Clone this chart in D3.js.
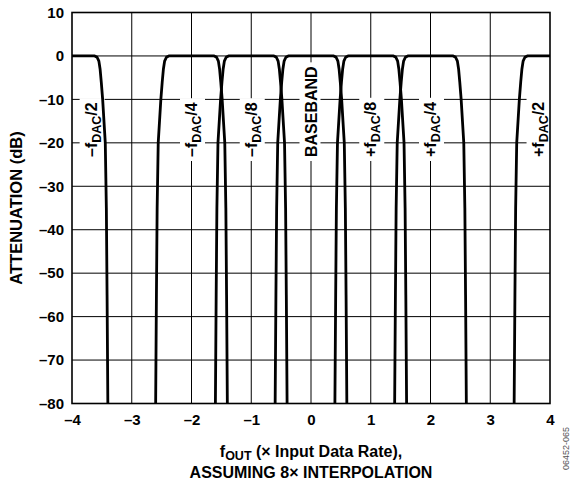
<!DOCTYPE html>
<html><head><meta charset="utf-8">
<script src="https://cdn.jsdelivr.net/npm/d3@7"></script>
<style>
html,body{margin:0;padding:0;background:#fff;}
svg{display:block;}
text{font-family:"Liberation Sans",Arial,Helvetica,sans-serif;font-weight:bold;fill:#000;}
</style></head>
<body>
<script>
// ---- data ----
const xTicks = [-4, -3, -2, -1, 0, 1, 2, 3, 4];
const yTicks = [10, 0, -10, -20, -30, -40, -50, -60, -70, -80];
const bandCenters = [-4, -2, -1, 0, 1, 2, 4];
// one filter edge: offset from band centre (x Input Data Rate) vs attenuation (dB)
const edgeOffset = [0.38, 0.42, 0.45, 0.47, 0.49, 0.513, 0.557, 0.575, 0.587, 0.60];
const edgeDb     = [0,    -0.3, -1.2, -3,   -6,   -10,   -20,   -35,   -55,   -80];
const labelPrefix = ["–f", "–f", "–f", "BASEBAND", "+f", "+f", "+f"];
const labelSub    = ["DAC", "DAC", "DAC", "", "DAC", "DAC", "DAC"];
const labelSuffix = ["/2", "/4", "/8", "", "/8", "/4", "/2"];
const labelAt     = [-3.68, -2, -1, 0, 1, 2, 3.8];

const W = 576, H = 483;
const m = {l:72, r:550, t:12.5, b:403.5};
const svg = d3.select("body").append("svg").attr("width", W).attr("height", H);
const x = d3.scaleLinear().domain([-4, 4]).range([m.l, m.r]);
const y = d3.scaleLinear().domain([-80, 10]).range([m.b, m.t]);

// gridlines
const grid = svg.append("g");
grid.selectAll("line.v").data(xTicks.slice(1, -1)).join("line")
  .attr("x1", d => x(d)).attr("x2", d => x(d)).attr("y1", m.t).attr("y2", m.b)
  .attr("stroke", "#000").attr("stroke-width", 1);
grid.selectAll("line.h").data(yTicks.slice(1, -1)).join("line")
  .attr("x1", m.l).attr("x2", m.r).attr("y1", d => y(d)).attr("y2", d => y(d))
  .attr("stroke", "#000").attr("stroke-width", 1);

// band labels with white knock-out boxes
const labY = 157;
labelPrefix.forEach((p, i) => {
  const g = svg.append("g").attr("transform", `translate(${x(labelAt[i]) + 5.5},${labY}) rotate(-90)`);
  const t = g.append("text").attr("x", 0).attr("y", 0).style("font-size", "16px");
  t.append("tspan").text(p);
  if (labelSub[i]) {
    t.append("tspan").attr("dy", 4).style("font-size", "12.5px").text(labelSub[i]);
    t.append("tspan").attr("dy", -4).text(labelSuffix[i]);
  }
  const bb = t.node().getBBox();
  g.insert("rect", "text").attr("x", bb.x - 4).attr("y", bb.y - 3)
    .attr("width", bb.width + 8).attr("height", bb.height + 4).attr("fill", "#fff");
});

// response curves
const line = d3.line().x(d => x(d[0])).y(d => y(d[1]));
const prof = edgeOffset.map((o, k) => [o, edgeDb[k]]);
bandCenters.forEach(c => {
  const pts = [];
  if (c > -4) prof.slice().reverse().forEach(p => pts.push([c - p[0], p[1]]));
  else pts.push([c, 0]);
  if (c < 4) prof.forEach(p => pts.push([c + p[0], p[1]]));
  else pts.push([c, 0]);
  svg.append("path").datum(pts.filter(p => p[0] >= -4 && p[0] <= 4))
    .attr("d", line).attr("fill", "none").attr("stroke", "#000")
    .attr("stroke-width", 2.8).attr("stroke-linejoin", "round");
});

// frame
svg.append("rect").attr("x", m.l).attr("y", m.t).attr("width", m.r - m.l).attr("height", m.b - m.t)
  .attr("fill", "none").attr("stroke", "#000").attr("stroke-width", 1.6);

// axes tick labels
const yAxis = d3.axisLeft(y).tickValues(yTicks).tickSize(0).tickPadding(8)
  .tickFormat(d => d < 0 ? "–" + Math.abs(d) : d);
svg.append("g").attr("transform", `translate(${m.l},0)`).call(yAxis)
  .call(g => g.select(".domain").remove())
  .selectAll("text").style("font-size", "15px").attr("font-family", null);
const xAxis = d3.axisBottom(x).tickValues(xTicks).tickSize(0).tickPadding(11)
  .tickFormat(d => d < 0 ? "–" + Math.abs(d) : d);
svg.append("g").attr("transform", `translate(0,${m.b})`).call(xAxis)
  .call(g => g.select(".domain").remove())
  .selectAll("text").style("font-size", "15px").attr("font-family", null);

// axis titles
svg.append("text").attr("transform", `translate(22,${(m.t + m.b) / 2}) rotate(-90)`)
  .attr("text-anchor", "middle").style("font-size", "16.5px").text("ATTENUATION (dB)");
const t1 = svg.append("text").attr("x", 311).attr("y", 457).attr("text-anchor", "middle").style("font-size", "16px");
t1.append("tspan").text("f");
t1.append("tspan").attr("dy", 3).style("font-size", "12.5px").text("OUT");
t1.append("tspan").attr("dy", -3).text(" (× Input Data Rate),");
svg.append("text").attr("x", 311).attr("y", 478).attr("text-anchor", "middle").style("font-size", "16px")
  .text("ASSUMING 8× INTERPOLATION");
svg.append("text").attr("transform", "translate(569,470) rotate(-90)")
  .style("font-size", "9px").style("font-weight", "normal").style("fill", "#555").text("06452-065");
</script>
</body></html>
